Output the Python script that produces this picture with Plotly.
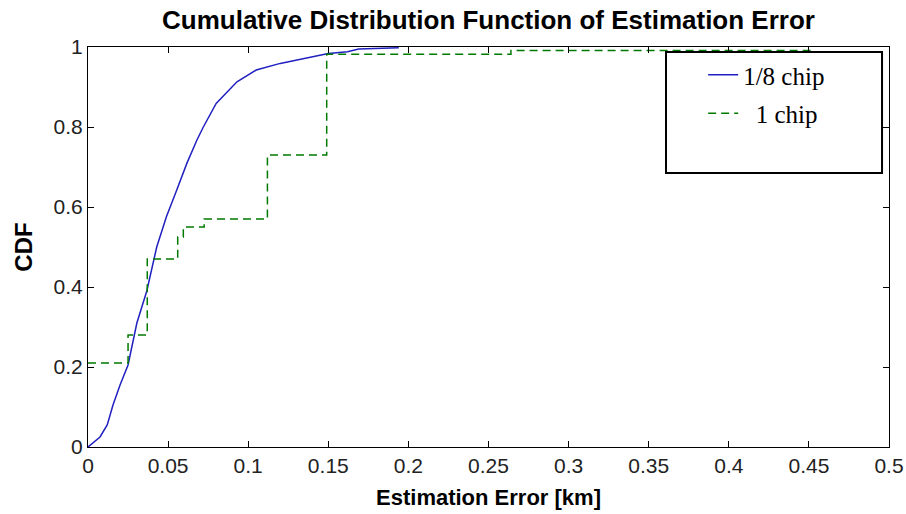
import plotly.graph_objects as go

# 1/8 chip CDF
fine_x = [0, 0.0075, 0.012, 0.0156, 0.02, 0.025, 0.0305, 0.0367, 0.0429, 0.049, 0.0554,
          0.0617, 0.068, 0.072, 0.080, 0.093, 0.105, 0.12, 0.141, 0.15, 0.162, 0.169, 0.194]
fine_y = [0, 0.025, 0.055, 0.105, 0.155, 0.205, 0.31, 0.39, 0.50, 0.576, 0.6425,
          0.709, 0.7675, 0.80, 0.859, 0.913, 0.9425, 0.959, 0.976, 0.984, 0.988, 0.995, 0.998]

# 1 chip CDF (step)
coarse_x = [0, 0.025, 0.037, 0.056, 0.0595, 0.0725, 0.112, 0.149, 0.264, 0.454]
coarse_y = [0.21, 0.28, 0.47, 0.525, 0.55, 0.57, 0.73, 0.982, 0.991, 0.991]

x_ticks = [0, 0.05, 0.1, 0.15, 0.2, 0.25, 0.3, 0.35, 0.4, 0.45, 0.5]
x_labels = ["0", "0.05", "0.1", "0.15", "0.2", "0.25", "0.3", "0.35", "0.4", "0.45", "0.5"]
y_ticks = [0, 0.2, 0.4, 0.6, 0.8, 1]
y_labels = ["0", "0.2", "0.4", "0.6", "0.8", "1"]

fig = go.Figure()
fig.add_trace(go.Scatter(x=fine_x, y=fine_y, mode="lines", name="1/8 chip",
                         line=dict(color="#2020c0", width=1.5),
                         legendgroup="a"))
fig.add_trace(go.Scatter(x=coarse_x, y=coarse_y, mode="lines", name="\u00a0\u00a01 chip",
                         line=dict(color="#007a00", width=1.5, dash="8px,5px", shape="hv"),
                         legendgroup="b"))

axis_common = dict(showline=True, linecolor="black", linewidth=1, mirror="ticks",
                   ticks="inside", ticklen=6, tickcolor="black", showgrid=False,
                   zeroline=False, automargin=False,
                   tickfont=dict(family="Liberation Sans, Arial", size=21, color="#222"))

fig.update_xaxes(range=[0, 0.5], tickvals=x_ticks, ticktext=x_labels,
                 title=dict(text="Estimation Error [km]", standoff=13,
                            font=dict(family="Liberation Sans, Arial", size=22,
                                      color="black", weight="bold")),
                 **axis_common)
fig.update_yaxes(range=[0, 1], tickvals=y_ticks, ticktext=y_labels,
                 title=dict(text="CDF", standoff=14,
                            font=dict(family="Liberation Sans, Arial", size=24,
                                      color="black", weight="bold")),
                 **axis_common)

fig.add_shape(type="rect", xref="paper", yref="paper", x0=0.7216, x1=0.9913,
              y0=0.685, y1=0.9875, line=dict(color="black", width=2),
              fillcolor="white", layer="above")

fig.update_layout(
    width=906, height=514,
    margin=dict(l=88, r=17, t=47, b=67, autoexpand=False),
    paper_bgcolor="white", plot_bgcolor="white",
    title=dict(text="Cumulative Distribution Function of Estimation Error",
               x=0.5, xref="paper", y=0.962, yanchor="middle",
               font=dict(family="Liberation Sans, Arial", size=26,
                         color="black", weight="bold")),
    legend=dict(x=0.768, y=0.9875, xanchor="left", yanchor="top",
                bgcolor="rgba(0,0,0,0)", borderwidth=0,
                tracegroupgap=3,
                font=dict(family="Liberation Serif, Times New Roman", size=25, color="black")),
    showlegend=True,
)

fig.write_html("out.html")
